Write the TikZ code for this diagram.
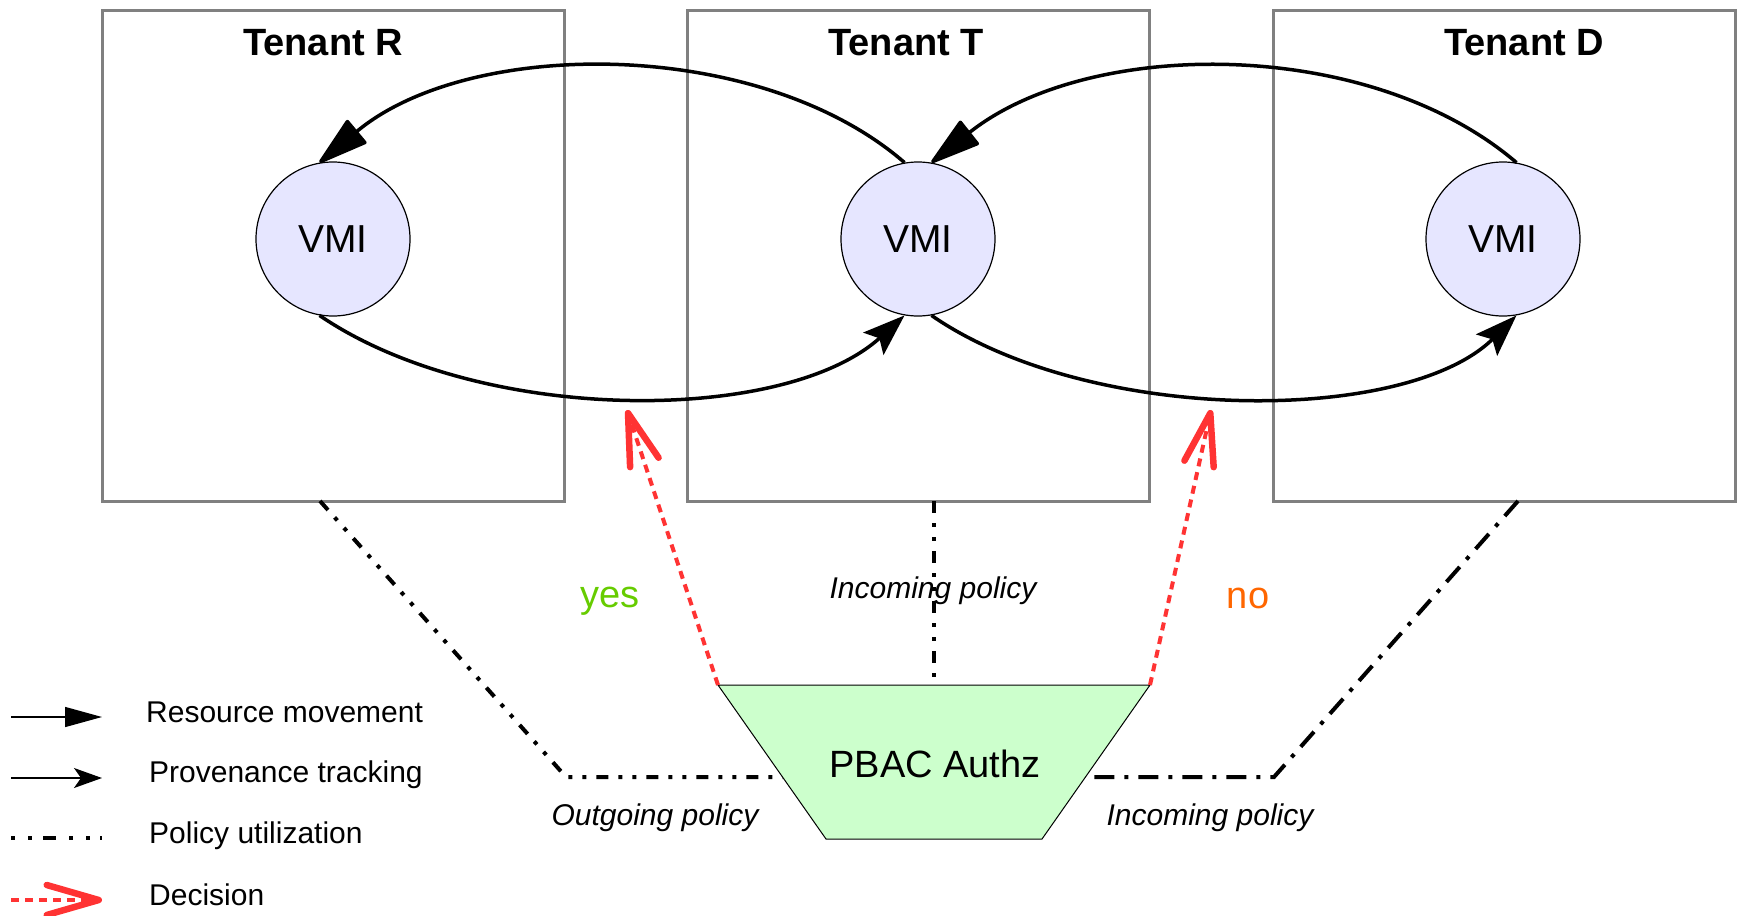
\documentclass[tikz,border=0pt]{standalone}
\usepackage{fontspec}
\setmainfont{Liberation Sans}
\usetikzlibrary{arrows.meta,calc}
\definecolor{boxgray}{HTML}{808080}
\definecolor{vmifill}{HTML}{E6E6FF}
\definecolor{pbacfill}{HTML}{CCFFCC}
\definecolor{decred}{HTML}{FF3333}
\definecolor{yesgreen}{HTML}{66CC00}
\definecolor{noorange}{HTML}{FF6600}
\begin{document}
\begin{tikzpicture}[x=1pt,y=-1pt,
  tenant/.style={draw=boxgray, line width=3pt, minimum width=462pt, minimum height=491pt, inner sep=0pt},
  title/.style={anchor=base, inner sep=0pt, font=\fontsize{38}{46}\selectfont\bfseries},
  vmi/.style={circle, draw, line width=1.2pt, fill=vmifill, minimum size=154pt, inner sep=0pt, font=\fontsize{39}{47}\selectfont},
  lbl/.style={anchor=base, inner sep=0pt, font=\fontsize{30}{36}\selectfont\itshape},
  leg/.style={anchor=base west, inner sep=0pt, font=\fontsize{30}{36}\selectfont},
  big/.style={anchor=base, inner sep=0pt, font=\fontsize{38}{46}\selectfont},
  move/.style={line width=3.5pt, -{Triangle[length=54pt,width=31pt,round]}},
  prov/.style={line width=3.5pt, -{Stealth[length=42pt,width=30pt,inset=8pt]}},
  policy/.style={line width=4pt, dash pattern=on 12pt off 10pt on 4pt off 10pt on 4pt off 10pt},
  policyb/.style={line width=4pt, dash pattern=on 20pt off 10pt on 4pt off 10pt},
  decision/.style={draw=decred, line width=4pt, dash pattern=on 8pt off 6pt, -{Straight Barb[length=52pt,width=30pt,line width=6.5pt,round]}}
]
\useasboundingbox (0,0) rectangle (1741,916);

% tenant boxes
\node[tenant] (boxR) at (333,255.5) {};
\node[tenant] (boxT) at (918.5,255.5) {};
\node[tenant] (boxD) at (1504,255.5) {};
\node[title] (tR) at (323,55.5) {Tenant R};
\node[title] (tT) at (906,55.5) {Tenant T};
\node[title] (tD) at (1524,55.5) {Tenant D};

% VMIs
\node[vmi] (R) at (333,239) {VMI};
\node[vmi] (T) at (918,239) {VMI};
\node[vmi] (D) at (1503,239) {VMI};

% resource movement (upper arcs)
\draw[move] (T.100) .. controls (760,37) and (470,37) .. (R.100);
\draw[move] (D.80) .. controls (1370,37) and (1090,37) .. (T.80);

% provenance tracking (lower arcs)
\draw[prov] (R.260) .. controls (480,425) and (784,425) .. (T.260);
\draw[prov] (T.280) .. controls (1090,425) and (1406,425) .. (D.280);

% PBAC corners
\coordinate (tl) at (718,685);
\coordinate (tr) at (1150,685);
\coordinate (br) at (1042,839);
\coordinate (bl) at (826,839);
\coordinate (pl) at ($(tl)!0.5974!(bl)$);
\coordinate (pr) at ($(tr)!0.5974!(br)$);

% policy utilization lines
\coordinate (sR) at (320,501);
\coordinate (kL) at (566,777);
\coordinate (sT) at (934,501);
\coordinate (eT) at (934,685);
\coordinate (sD) at (1518,501);
\coordinate (kR) at (1274,777);
\draw[policy] (sR) -- (kL) -- (pl);
\draw[policy] (sT) -- (eT);
\draw[policyb] (sD) -- (kR) -- (pr);

% PBAC trapezoid
\draw[line width=1pt, fill=pbacfill] (tl) -- (tr) -- (br) -- (bl) -- cycle;
\node[big] (pbac) at (935,777) {PBAC Authz};

% decisions
\coordinate (yTip) at (627,410);
\coordinate (nTip) at (1211,410);
\draw[decision] (tl) -- (yTip);
\draw[decision] (tr) -- (nTip);

% labels
\node[big, text=yesgreen] (yes) at (610,607) {yes};
\node[big, text=noorange] (no) at (1248,608) {no};
\node[lbl] (inT) at (933,598) {Incoming policy};
\node[lbl] (outL) at (655,825) {Outgoing policy};
\node[lbl] (inD) at (1210,825) {Incoming policy};

% legend
\coordinate (l1a) at (11,717); \coordinate (l1b) at (102,717);
\coordinate (l2a) at (11,778); \coordinate (l2b) at (102,778);
\coordinate (l3a) at (11,838); \coordinate (l3b) at (102,838);
\coordinate (l4a) at (11,900); \coordinate (l4b) at (102,900);
\draw[line width=1.4pt, -{Triangle[length=37pt,width=20pt]}] (l1a) -- (l1b);
\draw[line width=1.4pt, -{Stealth[length=28pt,width=20pt,inset=7pt]}] (l2a) -- (l2b);
\draw[line width=4pt, dash pattern=on 4pt off 13pt on 4pt off 11pt on 13pt off 13pt on 4pt off 13pt on 4pt off 10pt on 4pt off 10pt] (l3a) -- (l3b);
\draw[decision] (l4a) -- (l4b);
\node[leg] (g1) at (146,722) {Resource movement};
\node[leg] (g2) at (149,782) {Provenance tracking};
\node[leg] (g3) at (149,843) {Policy utilization};
\node[leg] (g4) at (149,905) {Decision};
\end{tikzpicture}
\end{document}
